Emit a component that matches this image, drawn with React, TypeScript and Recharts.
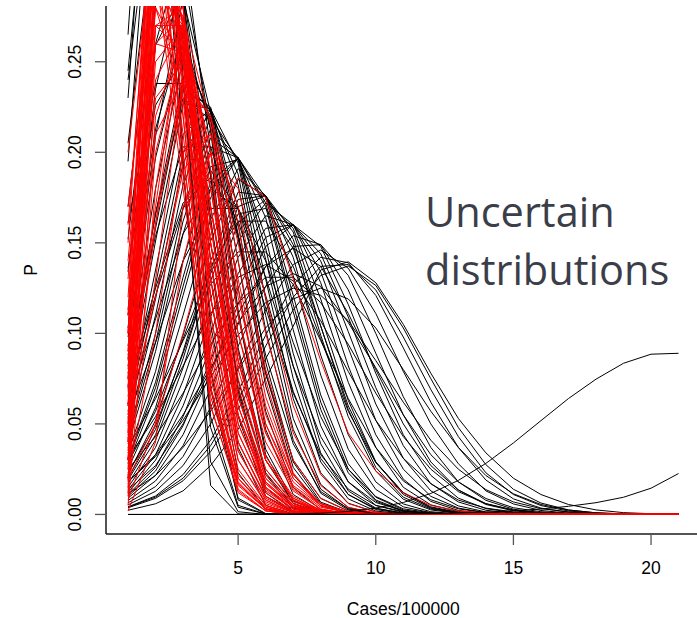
import React from 'react';
import { LineChart, Line, XAxis, YAxis, Label } from 'recharts';

const xValues = [1, 2, 3, 4, 5, 6, 7, 8, 9, 10, 11, 12, 13, 14, 15, 16, 17, 18, 19, 20, 21];
const xTicks = [5, 10, 15, 20];
const yTicks = [0, 0.05, 0.1, 0.15, 0.2, 0.25];
const xLabel = 'Cases/100000';
const yLabel = 'P';
const annotationLines = ['Uncertain', 'distributions'];

// black distributions (probability at x = 1..21)
const blackCurves: number[][] = [
  [0.294, 0.41, 0.19, 0.029, 0.0015, 0, 0, 0, 0, 0, 0, 0, 0, 0, 0, 0, 0, 0, 0, 0, 0],
  [0.24, 0.363, 0.24, 0.069, 0.009, 0.0005, 0, 0, 0, 0, 0, 0, 0, 0, 0, 0, 0, 0, 0, 0, 0],
  [0.195, 0.392, 0.29, 0.079, 0.008, 0.0003, 0, 0, 0, 0, 0, 0, 0, 0, 0, 0, 0, 0, 0, 0, 0],
  [0.265, 0.49, 0.194, 0.016, 0.0003, 0, 0, 0, 0, 0, 0, 0, 0, 0, 0, 0, 0, 0, 0, 0, 0],
  [0.23, 0.44, 0.242, 0.048, 0.004, 0.0002, 0, 0, 0, 0, 0, 0, 0, 0, 0, 0, 0, 0, 0, 0, 0],
  [0.205, 0.333, 0.262, 0.105, 0.023, 0.003, 0.0002, 0, 0, 0, 0, 0, 0, 0, 0, 0, 0, 0, 0, 0, 0],
  [0.245, 0.401, 0.24, 0.054, 0.005, 0.0002, 0, 0, 0, 0, 0, 0, 0, 0, 0, 0, 0, 0, 0, 0, 0],
  [0.17, 0.303, 0.284, 0.14, 0.037, 0.005, 0.0004, 0, 0, 0, 0, 0, 0, 0, 0, 0, 0, 0, 0, 0, 0],
  [0.152, 0.281, 0.287, 0.164, 0.054, 0.01, 0.0012, 0.0001, 0, 0, 0, 0, 0, 0, 0, 0, 0, 0, 0, 0, 0],
  [0.134, 0.259, 0.289, 0.187, 0.07, 0.015, 0.002, 0.0002, 0, 0, 0, 0, 0, 0, 0, 0, 0, 0, 0, 0, 0],
  [0.136, 0.226, 0.252, 0.187, 0.092, 0.03, 0.0062, 0.0009, 0, 0, 0, 0, 0, 0, 0, 0, 0, 0, 0, 0, 0],
  [0.11, 0.213, 0.266, 0.213, 0.11, 0.036, 0.0075, 0.001, 0, 0, 0, 0, 0, 0, 0, 0, 0, 0, 0, 0, 0],
  [0.098, 0.197, 0.259, 0.218, 0.125, 0.047, 0.011, 0.0018, 0.0002, 0, 0, 0, 0, 0, 0, 0, 0, 0, 0, 0, 0],
  [0.086, 0.18, 0.252, 0.222, 0.14, 0.057, 0.015, 0.0026, 0.0004, 0, 0, 0, 0, 0, 0, 0, 0, 0, 0, 0, 0],
  [0.078, 0.166, 0.24, 0.223, 0.155, 0.071, 0.022, 0.0047, 0.0008, 0.0001, 0, 0, 0, 0, 0, 0, 0, 0, 0, 0, 0],
  [0.075, 0.158, 0.235, 0.225, 0.16, 0.078, 0.026, 0.006, 0.001, 0, 0, 0, 0, 0, 0, 0, 0, 0, 0, 0, 0],
  [0.069, 0.151, 0.227, 0.224, 0.169, 0.084, 0.029, 0.0068, 0.0012, 0.0001, 0, 0, 0, 0, 0, 0, 0, 0, 0, 0, 0],
  [0.061, 0.135, 0.21, 0.224, 0.182, 0.102, 0.041, 0.0117, 0.0025, 0.0004, 0, 0, 0, 0, 0, 0, 0, 0, 0, 0, 0],
  [0.057, 0.127, 0.2, 0.222, 0.188, 0.11, 0.047, 0.014, 0.003, 0.0005, 0, 0, 0, 0, 0, 0, 0, 0, 0, 0, 0],
  [0.053, 0.119, 0.194, 0.224, 0.194, 0.119, 0.053, 0.0166, 0.0038, 0.0006, 0, 0, 0, 0, 0, 0, 0, 0, 0, 0, 0],
  [0.049, 0.11, 0.182, 0.219, 0.196, 0.13, 0.064, 0.023, 0.0062, 0.0013, 0.0002, 0, 0, 0, 0, 0, 0, 0, 0, 0, 0],
  [0.044, 0.1, 0.169, 0.213, 0.197, 0.141, 0.075, 0.029, 0.0086, 0.0019, 0.0003, 0, 0, 0, 0, 0, 0, 0, 0, 0, 0],
  [0.042, 0.095, 0.162, 0.208, 0.197, 0.147, 0.082, 0.034, 0.011, 0.0027, 0.0005, 0, 0, 0, 0, 0, 0, 0, 0, 0, 0],
  [0.039, 0.09, 0.155, 0.203, 0.197, 0.153, 0.089, 0.039, 0.013, 0.0035, 0.0007, 0.0001, 0, 0, 0, 0, 0, 0, 0, 0, 0],
  [0.034, 0.079, 0.14, 0.192, 0.196, 0.164, 0.102, 0.049, 0.018, 0.005, 0.0011, 0.0002, 0, 0, 0, 0, 0, 0, 0, 0, 0],
  [0.031, 0.073, 0.131, 0.184, 0.197, 0.17, 0.112, 0.058, 0.023, 0.0073, 0.0018, 0.0004, 0, 0, 0, 0, 0, 0, 0, 0, 0],
  [0.03, 0.07, 0.126, 0.18, 0.197, 0.172, 0.116, 0.062, 0.025, 0.008, 0.002, 0.0004, 0, 0, 0, 0, 0, 0, 0, 0, 0],
  [0.028, 0.066, 0.121, 0.175, 0.197, 0.175, 0.121, 0.066, 0.028, 0.0095, 0.0025, 0.0005, 0, 0, 0, 0, 0, 0, 0, 0, 0],
  [0.025, 0.059, 0.11, 0.163, 0.191, 0.176, 0.132, 0.077, 0.036, 0.0138, 0.0042, 0.001, 0.0002, 0, 0, 0, 0, 0, 0, 0, 0],
  [0.022, 0.052, 0.099, 0.151, 0.185, 0.176, 0.142, 0.088, 0.044, 0.018, 0.0058, 0.0015, 0.0003, 0, 0, 0, 0, 0, 0, 0, 0],
  [0.02, 0.047, 0.09, 0.14, 0.178, 0.176, 0.149, 0.099, 0.054, 0.024, 0.0084, 0.0025, 0.0006, 0.0001, 0, 0, 0, 0, 0, 0, 0],
  [0.019, 0.044, 0.086, 0.135, 0.174, 0.176, 0.152, 0.104, 0.058, 0.026, 0.0095, 0.003, 0.0007, 0, 0, 0, 0, 0, 0, 0, 0],
  [0.017, 0.041, 0.081, 0.129, 0.17, 0.176, 0.156, 0.11, 0.063, 0.029, 0.011, 0.0034, 0.0009, 0.0002, 0, 0, 0, 0, 0, 0, 0],
  [0.015, 0.037, 0.074, 0.119, 0.161, 0.174, 0.158, 0.119, 0.073, 0.037, 0.015, 0.0053, 0.0016, 0.0004, 0.0001, 0, 0, 0, 0, 0, 0],
  [0.0135, 0.033, 0.066, 0.109, 0.151, 0.172, 0.16, 0.128, 0.082, 0.044, 0.0195, 0.0072, 0.0022, 0.0006, 0.0001, 0, 0, 0, 0, 0, 0],
  [0.012, 0.03, 0.06, 0.1, 0.142, 0.165, 0.16, 0.134, 0.092, 0.052, 0.025, 0.01, 0.0035, 0.001, 0.0003, 0, 0, 0, 0, 0, 0],
  [0.011, 0.026, 0.054, 0.092, 0.133, 0.158, 0.16, 0.14, 0.101, 0.061, 0.031, 0.013, 0.0047, 0.0014, 0.0004, 0, 0, 0, 0, 0, 0],
  [0.01, 0.024, 0.049, 0.085, 0.125, 0.153, 0.16, 0.144, 0.109, 0.07, 0.038, 0.017, 0.0069, 0.0023, 0.0007, 0.0002, 0, 0, 0, 0, 0],
  [0.009, 0.0216, 0.044, 0.078, 0.116, 0.148, 0.16, 0.148, 0.116, 0.078, 0.044, 0.0216, 0.009, 0.0032, 0.001, 0.0002, 0, 0, 0, 0, 0],
  [0.0077, 0.0185, 0.038, 0.069, 0.105, 0.137, 0.154, 0.149, 0.124, 0.089, 0.055, 0.029, 0.0135, 0.0055, 0.002, 0.0006, 0.0001, 0, 0, 0, 0],
  [0.0064, 0.0154, 0.032, 0.059, 0.093, 0.126, 0.148, 0.149, 0.132, 0.1, 0.065, 0.037, 0.018, 0.0078, 0.0029, 0.0009, 0.0002, 0, 0, 0, 0],
  [0.0053, 0.0128, 0.027, 0.05, 0.081, 0.113, 0.138, 0.146, 0.136, 0.111, 0.079, 0.05, 0.028, 0.013, 0.0058, 0.0022, 0.0007, 0.0002, 0, 0, 0],
  [0.0042, 0.0102, 0.022, 0.041, 0.068, 0.099, 0.127, 0.142, 0.139, 0.121, 0.092, 0.062, 0.037, 0.019, 0.0086, 0.0035, 0.0012, 0.0004, 0.0001, 0, 0],
  [0.004, 0.0096, 0.02, 0.038, 0.063, 0.093, 0.12, 0.137, 0.138, 0.124, 0.098, 0.069, 0.043, 0.023, 0.011, 0.0049, 0.0019, 0.0007, 0.0002, 0, 0],
  [0.0037, 0.0089, 0.0186, 0.0347, 0.058, 0.086, 0.113, 0.132, 0.1372, 0.1265, 0.103, 0.075, 0.048, 0.0275, 0.0139, 0.0063, 0.0025, 0.0009, 0.0003, 0, 0],
  [0.0023, 0.0059, 0.013, 0.027, 0.047, 0.075, 0.104, 0.135, 0.1395, 0.128, 0.105, 0.078, 0.053, 0.034, 0.02, 0.011, 0.0055, 0.0025, 0.001, 0.0004, 0.0001],
  [0.037, 0.064, 0.096, 0.127, 0.145, 0.145, 0.127, 0.096, 0.064, 0.037, 0.0185, 0.0081, 0.0031, 0.001, 0.0003, 0, 0, 0, 0, 0, 0],
  [0.031, 0.054, 0.082, 0.111, 0.131, 0.138, 0.129, 0.107, 0.079, 0.052, 0.031, 0.017, 0.0079, 0.0035, 0.0014, 0.0005, 0.0002, 0, 0, 0, 0],
  [0.025, 0.043, 0.067, 0.094, 0.117, 0.131, 0.131, 0.117, 0.094, 0.067, 0.043, 0.025, 0.0126, 0.0059, 0.0024, 0.0009, 0.0003, 0, 0, 0, 0],
  [0.018, 0.032, 0.052, 0.076, 0.099, 0.117, 0.125, 0.121, 0.107, 0.085, 0.062, 0.041, 0.025, 0.0137, 0.0069, 0.0032, 0.0014, 0.0005, 0.0002, 0, 0],
  [0.0114, 0.0215, 0.037, 0.057, 0.08, 0.103, 0.119, 0.125, 0.119, 0.103, 0.08, 0.057, 0.037, 0.0215, 0.0114, 0.0055, 0.0024, 0.0009, 0.0003, 0, 0],
  [0.018, 0.033, 0.055, 0.081, 0.106, 0.126, 0.133, 0.126, 0.106, 0.081, 0.055, 0.033, 0.018, 0.0088, 0.0037, 0.0015, 0.0005, 0.0002, 0, 0, 0],
  [0.0135, 0.027, 0.05, 0.08, 0.111, 0.137, 0.147, 0.137, 0.111, 0.08, 0.05, 0.027, 0.0135, 0.006, 0.0024, 0.0009, 0.0003, 0.0001, 0, 0, 0],
  [0.054, 0.095, 0.14, 0.169, 0.169, 0.14, 0.095, 0.054, 0.025, 0.0099, 0.0031, 0.0009, 0, 0, 0, 0, 0, 0, 0, 0, 0],
  [0.071, 0.125, 0.172, 0.186, 0.162, 0.114, 0.067, 0.033, 0.014, 0.005, 0.0016, 0.0005, 0, 0, 0, 0, 0, 0, 0, 0, 0],
  [0.088, 0.154, 0.203, 0.203, 0.154, 0.088, 0.039, 0.0126, 0.0032, 0.0006, 0, 0, 0, 0, 0, 0, 0, 0, 0, 0, 0],
  [0.161, 0.238, 0.238, 0.161, 0.074, 0.023, 0.0048, 0.0007, 0, 0, 0, 0, 0, 0, 0, 0, 0, 0, 0, 0, 0],
  [0.113, 0.26, 0.315, 0.201, 0.068, 0.012, 0.0011, 0, 0, 0, 0, 0, 0, 0, 0, 0, 0, 0, 0, 0, 0],
  [0.103, 0.235, 0.3, 0.212, 0.09, 0.022, 0.0035, 0.0003, 0, 0, 0, 0, 0, 0, 0, 0, 0, 0, 0, 0, 0],
  [0.093, 0.209, 0.285, 0.222, 0.113, 0.033, 0.006, 0.0006, 0, 0, 0, 0, 0, 0, 0, 0, 0, 0, 0, 0, 0],
  [0.082, 0.166, 0.23, 0.218, 0.152, 0.078, 0.03, 0.0088, 0.0019, 0.0003, 0, 0, 0, 0, 0, 0, 0, 0, 0, 0, 0],
  [0.068, 0.121, 0.169, 0.19, 0.169, 0.121, 0.068, 0.031, 0.011, 0.0032, 0.0008, 0, 0, 0, 0, 0, 0, 0, 0, 0, 0],
  [0.061, 0.108, 0.155, 0.18, 0.169, 0.131, 0.082, 0.043, 0.018, 0.0066, 0.002, 0.0005, 0, 0, 0, 0, 0, 0, 0, 0, 0],
  [0.0286, 0.057, 0.097, 0.137, 0.162, 0.162, 0.137, 0.097, 0.057, 0.0286, 0.012, 0.0042, 0.0012, 0.0003, 0, 0, 0, 0, 0, 0, 0],
  [0.023, 0.049, 0.089, 0.133, 0.166, 0.169, 0.147, 0.104, 0.06, 0.029, 0.012, 0.0038, 0.001, 0.0003, 0, 0, 0, 0, 0, 0, 0],
];

// red distributions (probability at x = 1..21)
const redCurves: number[][] = [
  [0.05, 0.32, 0.26, 0.14, 0.05, 0.015, 0.004, 0.001, 0, 0, 0, 0, 0, 0, 0, 0, 0, 0, 0, 0, 0],
  [0.08, 0.36, 0.24, 0.1, 0.03, 0.007, 0.001, 0, 0, 0, 0, 0, 0, 0, 0, 0, 0, 0, 0, 0, 0],
  [0.03, 0.29, 0.27, 0.16, 0.07, 0.025, 0.007, 0.002, 0, 0, 0, 0, 0, 0, 0, 0, 0, 0, 0, 0, 0],
  [0.1, 0.38, 0.22, 0.08, 0.02, 0.004, 0, 0, 0, 0, 0, 0, 0, 0, 0, 0, 0, 0, 0, 0, 0],
  [0.02, 0.26, 0.275, 0.18, 0.085, 0.03, 0.009, 0.002, 0, 0, 0, 0, 0, 0, 0, 0, 0, 0, 0, 0, 0],
  [0.06, 0.4, 0.25, 0.09, 0.02, 0.003, 0, 0, 0, 0, 0, 0, 0, 0, 0, 0, 0, 0, 0, 0, 0],
  [0.04, 0.3, 0.25, 0.15, 0.065, 0.022, 0.006, 0.0015, 0, 0, 0, 0, 0, 0, 0, 0, 0, 0, 0, 0, 0],
  [0.12, 0.34, 0.2, 0.07, 0.018, 0.003, 0, 0, 0, 0, 0, 0, 0, 0, 0, 0, 0, 0, 0, 0, 0],
  [0.015, 0.24, 0.27, 0.19, 0.1, 0.04, 0.013, 0.003, 0, 0, 0, 0, 0, 0, 0, 0, 0, 0, 0, 0, 0],
  [0.07, 0.33, 0.27, 0.13, 0.045, 0.012, 0.002, 0, 0, 0, 0, 0, 0, 0, 0, 0, 0, 0, 0, 0, 0],
  [0.01, 0.22, 0.265, 0.2, 0.11, 0.05, 0.018, 0.005, 0.001, 0, 0, 0, 0, 0, 0, 0, 0, 0, 0, 0, 0],
  [0.14, 0.31, 0.19, 0.06, 0.013, 0.002, 0, 0, 0, 0, 0, 0, 0, 0, 0, 0, 0, 0, 0, 0, 0],
  [0.09, 0.35, 0.26, 0.11, 0.035, 0.008, 0.001, 0, 0, 0, 0, 0, 0, 0, 0, 0, 0, 0, 0, 0, 0],
  [0.05, 0.28, 0.23, 0.13, 0.055, 0.018, 0.005, 0.001, 0, 0, 0, 0, 0, 0, 0, 0, 0, 0, 0, 0, 0],
  [0.025, 0.34, 0.28, 0.14, 0.05, 0.014, 0.003, 0, 0, 0, 0, 0, 0, 0, 0, 0, 0, 0, 0, 0, 0],
  [0.17, 0.3, 0.18, 0.065, 0.017, 0.003, 0, 0, 0, 0, 0, 0, 0, 0, 0, 0, 0, 0, 0, 0, 0],
  [0.035, 0.27, 0.255, 0.17, 0.08, 0.03, 0.009, 0.002, 0, 0, 0, 0, 0, 0, 0, 0, 0, 0, 0, 0, 0],
  [0.1, 0.39, 0.24, 0.085, 0.02, 0.004, 0, 0, 0, 0, 0, 0, 0, 0, 0, 0, 0, 0, 0, 0, 0],
  [0.045, 0.31, 0.265, 0.15, 0.06, 0.018, 0.004, 0.001, 0, 0, 0, 0, 0, 0, 0, 0, 0, 0, 0, 0, 0],
  [0.13, 0.33, 0.21, 0.08, 0.022, 0.005, 0, 0, 0, 0, 0, 0, 0, 0, 0, 0, 0, 0, 0, 0, 0],
  [0.02, 0.2, 0.26, 0.2, 0.12, 0.055, 0.02, 0.006, 0.0015, 0, 0, 0, 0, 0, 0, 0, 0, 0, 0, 0, 0],
  [0.16, 0.35, 0.2, 0.07, 0.016, 0.003, 0, 0, 0, 0, 0, 0, 0, 0, 0, 0, 0, 0, 0, 0, 0],
  [0.012, 0.3, 0.28, 0.15, 0.055, 0.015, 0.003, 0, 0, 0, 0, 0, 0, 0, 0, 0, 0, 0, 0, 0, 0],
  [0.075, 0.3, 0.26, 0.14, 0.055, 0.017, 0.004, 0, 0, 0, 0, 0, 0, 0, 0, 0, 0, 0, 0, 0, 0],
  [0.04, 0.16, 0.27, 0.2, 0.11, 0.045, 0.014, 0.003, 0.0005, 0, 0, 0, 0, 0, 0, 0, 0, 0, 0, 0, 0],
  [0.06, 0.17, 0.275, 0.215, 0.125, 0.05, 0.015, 0.004, 0.001, 0, 0, 0, 0, 0, 0, 0, 0, 0, 0, 0, 0],
  [0.074, 0.161, 0.238, 0.22, 0.161, 0.074, 0.023, 0.0048, 0.0007, 0, 0, 0, 0, 0, 0, 0, 0, 0, 0, 0, 0],
  [0.02, 0.05, 0.1, 0.155, 0.186, 0.175, 0.13, 0.085, 0.045, 0.024, 0.012, 0.005, 0.002, 0.0007, 0.0002, 0, 0, 0, 0, 0, 0],
  [0.055, 0.12, 0.19, 0.21, 0.17, 0.1, 0.045, 0.016, 0.004, 0.0008, 0, 0, 0, 0, 0, 0, 0, 0, 0, 0, 0],
  [0.02, 0.1, 0.2, 0.21, 0.15, 0.08, 0.03, 0.009, 0.002, 0, 0, 0, 0, 0, 0, 0, 0, 0, 0, 0, 0],
  [0.11, 0.28, 0.25, 0.15, 0.065, 0.02, 0.005, 0.001, 0, 0, 0, 0, 0, 0, 0, 0, 0, 0, 0, 0, 0],
  [0.2, 0.33, 0.19, 0.06, 0.012, 0.002, 0, 0, 0, 0, 0, 0, 0, 0, 0, 0, 0, 0, 0, 0, 0],
  [0.005, 0.18, 0.27, 0.19, 0.09, 0.03, 0.008, 0.002, 0, 0, 0, 0, 0, 0, 0, 0, 0, 0, 0, 0, 0],
  [0.03, 0.13, 0.24, 0.22, 0.14, 0.065, 0.022, 0.006, 0.0013, 0, 0, 0, 0, 0, 0, 0, 0, 0, 0, 0, 0],
  [0.15, 0.37, 0.22, 0.075, 0.017, 0.003, 0, 0, 0, 0, 0, 0, 0, 0, 0, 0, 0, 0, 0, 0, 0],
  [0.09, 0.26, 0.255, 0.17, 0.085, 0.03, 0.008, 0.0015, 0, 0, 0, 0, 0, 0, 0, 0, 0, 0, 0, 0, 0],
  [0.008, 0.05, 0.14, 0.2, 0.18, 0.12, 0.06, 0.022, 0.006, 0.0013, 0, 0, 0, 0, 0, 0, 0, 0, 0, 0, 0],
  [0.045, 0.35, 0.27, 0.12, 0.035, 0.008, 0.001, 0, 0, 0, 0, 0, 0, 0, 0, 0, 0, 0, 0, 0, 0],
  [0.065, 0.25, 0.27, 0.16, 0.065, 0.02, 0.005, 0.001, 0, 0, 0, 0, 0, 0, 0, 0, 0, 0, 0, 0, 0],
  [0.11, 0.4, 0.23, 0.07, 0.014, 0.002, 0, 0, 0, 0, 0, 0, 0, 0, 0, 0, 0, 0, 0, 0, 0],
  [0.002, 0.04, 0.17, 0.2, 0.13, 0.06, 0.02, 0.005, 0.001, 0, 0, 0, 0, 0, 0, 0, 0, 0, 0, 0, 0],
  [0.03, 0.21, 0.24, 0.18, 0.1, 0.045, 0.016, 0.005, 0.001, 0, 0, 0, 0, 0, 0, 0, 0, 0, 0, 0, 0],
  [0.07, 0.27, 0.28, 0.16, 0.06, 0.017, 0.004, 0, 0, 0, 0, 0, 0, 0, 0, 0, 0, 0, 0, 0, 0],
  [0.06, 0.3, 0.275, 0.13, 0.04, 0.009, 0.0015, 0, 0, 0, 0, 0, 0, 0, 0, 0, 0, 0, 0, 0, 0],
  [0.03, 0.33, 0.26, 0.11, 0.03, 0.006, 0.001, 0, 0, 0, 0, 0, 0, 0, 0, 0, 0, 0, 0, 0, 0],
  [0.085, 0.37, 0.25, 0.095, 0.025, 0.005, 0, 0, 0, 0, 0, 0, 0, 0, 0, 0, 0, 0, 0, 0, 0],
  [0.018, 0.27, 0.27, 0.17, 0.075, 0.025, 0.006, 0.0012, 0, 0, 0, 0, 0, 0, 0, 0, 0, 0, 0, 0, 0],
  [0.1, 0.29, 0.24, 0.12, 0.045, 0.013, 0.003, 0, 0, 0, 0, 0, 0, 0, 0, 0, 0, 0, 0, 0, 0],
  [0.04, 0.36, 0.27, 0.12, 0.04, 0.01, 0.002, 0, 0, 0, 0, 0, 0, 0, 0, 0, 0, 0, 0, 0, 0],
  [0.055, 0.23, 0.25, 0.17, 0.085, 0.032, 0.01, 0.0025, 0, 0, 0, 0, 0, 0, 0, 0, 0, 0, 0, 0, 0],
  [0.075, 0.34, 0.255, 0.12, 0.04, 0.01, 0.002, 0, 0, 0, 0, 0, 0, 0, 0, 0, 0, 0, 0, 0, 0],
];

// the two black curves rising at the right end
const tailCurves: number[][] = [
  [0, 0, 0, 0, 0, 0.0001, 0.0003, 0.0007, 0.0017, 0.0035, 0.0066, 0.0116, 0.0188, 0.0282, 0.0395, 0.0518, 0.064, 0.0747, 0.0835, 0.0885, 0.089],
  [0, 0, 0, 0, 0, 0, 0, 0, 0, 0.0002, 0.0003, 0.0005, 0.0008, 0.0013, 0.002, 0.003, 0.0045, 0.0065, 0.0095, 0.0145, 0.0226],
];

const rows = xValues.map((x, i) => {
  const row: Record<string, number> = { x };
  blackCurves.forEach((c, j) => { row[`b${j}`] = c[i] ?? 0; });
  redCurves.forEach((c, j) => { row[`r${j}`] = c[i] ?? 0; });
  tailCurves.forEach((c, j) => { row[`t${j}`] = c[i] ?? 0; });
  return row;
});

const AXIS_FONT = 'Liberation Sans, Arial, sans-serif';

const YTick = (props: any) => {
  const { y, payload } = props;
  const bx = 81;
  return (
    <text x={bx} y={y} transform={`rotate(-90 ${bx} ${y})`} textAnchor="middle"
      fontSize={17.5} fontFamily={AXIS_FONT} fill="#000">
      {Number(payload.value).toFixed(2)}
    </text>
  );
};

const XTick = (props: any) => {
  const { x, y, payload } = props;
  return (
    <text x={x} y={y + 29} textAnchor="middle" fontSize={17.5} fontFamily={AXIS_FONT} fill="#000">
      {payload.value}
    </text>
  );
};

const XTitle = (props: any) => {
  const vb = props.viewBox || { x: 106, y: 534, width: 594, height: 84 };
  return (
    <text x={vb.x + vb.width / 2} y={vb.y + 80.5} textAnchor="middle" fontSize={17.5}
      fontFamily={AXIS_FONT} fill="#000">
      {xLabel}
    </text>
  );
};

const YTitle = (props: any) => {
  const vb = props.viewBox || { x: 0, y: 6, width: 106, height: 528 };
  const cy = vb.y + vb.height / 2;
  const bx = 36.7;
  return (
    <text x={bx} y={cy} transform={`rotate(-90 ${bx} ${cy})`} textAnchor="middle" fontSize={17.5}
      fontFamily={AXIS_FONT} fill="#000">
      {yLabel}
    </text>
  );
};

export default function App() {
  return (
    <div style={{ position: 'absolute', left: 0, top: 0, width: 697, height: 618, overflow: 'hidden', background: '#fff' }}>
      <LineChart width={720} height={618} data={rows} margin={{ top: 6, right: 19.4, bottom: 0, left: 0 }}>
        <XAxis dataKey="x" type="number" domain={[0.2, 21.8]} ticks={xTicks} allowDataOverflow
          height={84} tickSize={11} tickMargin={0} interval={0}
          axisLine={{ stroke: '#1a1a1a', strokeWidth: 1.5 }} tickLine={{ stroke: '#555', strokeWidth: 1.3 }}
          tick={<XTick />}>
          <Label content={<XTitle />} />
        </XAxis>
        <XAxis xAxisId="top" orientation="top" dataKey="x" type="number" domain={[0.2, 21.8]}
          height={0} tick={false} tickLine={false} axisLine={{ stroke: '#1a1a1a', strokeWidth: 1.5 }} />
        <YAxis type="number" domain={[-0.0108, 0.2808]} ticks={yTicks} allowDataOverflow width={106}
          tickSize={11} tickMargin={0} interval={0}
          axisLine={{ stroke: '#1a1a1a', strokeWidth: 1.5 }} tickLine={{ stroke: '#555', strokeWidth: 1.3 }}
          tick={<YTick />}>
          <Label content={<YTitle />} />
        </YAxis>
        {blackCurves.map((_, j) => (
          <Line key={`b${j}`} dataKey={`b${j}`} stroke="#000" strokeWidth={1} dot={false}
            activeDot={false} isAnimationActive={false} type="linear" />
        ))}
        {redCurves.map((_, j) => (
          <Line key={`r${j}`} dataKey={`r${j}`} stroke="#ff0000" strokeWidth={1} dot={false}
            activeDot={false} isAnimationActive={false} type="linear" />
        ))}
        {tailCurves.map((_, j) => (
          <Line key={`t${j}`} dataKey={`t${j}`} stroke="#000" strokeWidth={1} dot={false}
            activeDot={false} isAnimationActive={false} type="linear" />
        ))}
      </LineChart>
      <svg width={697} height={618} style={{ position: 'absolute', left: 0, top: 0, pointerEvents: 'none' }}>
        {annotationLines.map((t, i) => (
          <text key={t} x={425} y={226.7 + i * 58} fontSize={41.5} fontFamily="Open Sans, sans-serif" fill="#3B3E48">
            {t}
          </text>
        ))}
      </svg>
    </div>
  );
}
